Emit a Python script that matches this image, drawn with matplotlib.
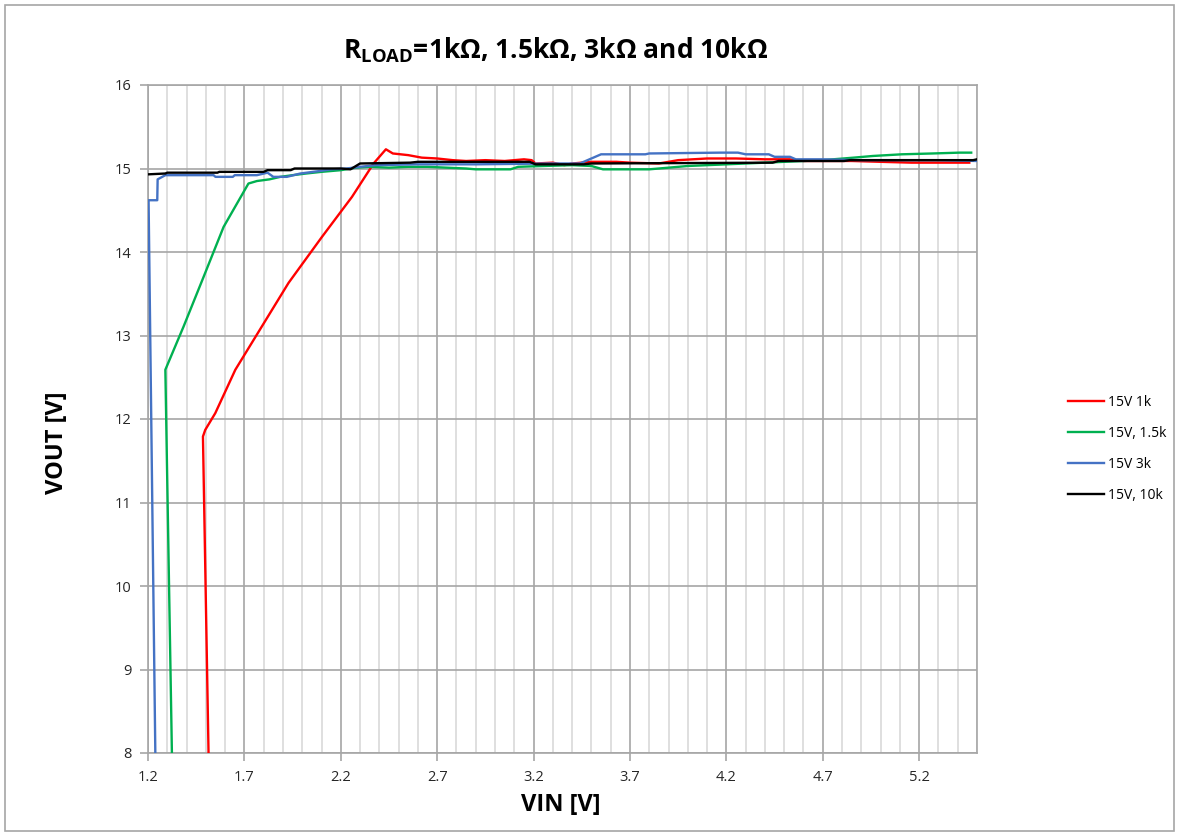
import numpy as np
import matplotlib.pyplot as plt
from matplotlib.ticker import MultipleLocator, FixedLocator

plt.rcParams['font.family'] = ['Open Sans', 'DejaVu Sans']
plt.rcParams['mathtext.fontset'] = 'custom'
plt.rcParams['mathtext.rm'] = 'Open Sans'
plt.rcParams['mathtext.bf'] = 'Open Sans:bold'

# --- data (VIN [V], VOUT [V]) ---
vin_1k = [1.514, 1.485, 1.497, 1.549, 1.653, 1.791, 1.929, 2.102, 2.258, 2.37, 2.434,
          2.47, 2.55, 2.62, 2.70, 2.78, 2.85, 2.95, 3.05, 3.15, 3.19, 3.21, 3.30, 3.36,
          3.40, 3.50, 3.63, 3.70, 3.85, 3.95, 4.10, 4.25, 4.40, 4.53, 4.60, 4.70, 4.85,
          5.00, 5.16, 5.30, 5.46]
vout_1k = [8.0, 11.79, 11.87, 12.07, 12.59, 13.11, 13.63, 14.18, 14.66, 15.06, 15.23,
           15.18, 15.16, 15.13, 15.12, 15.10, 15.09, 15.10, 15.09, 15.11, 15.10, 15.06, 15.07, 15.04,
           15.06, 15.08, 15.08, 15.07, 15.06, 15.10, 15.12, 15.12, 15.11, 15.11, 15.09, 15.09, 15.09,
           15.08, 15.07, 15.07, 15.07]

vin_1k5 = [1.324, 1.29, 1.385, 1.488, 1.592, 1.721, 1.765, 1.83, 1.886, 1.95, 2.02, 2.10,
           2.20, 2.28, 2.35, 2.45, 2.55, 2.65, 2.75, 2.85, 2.90, 3.08, 3.12, 3.25, 3.40,
           3.50, 3.56, 3.80, 3.90, 4.00, 4.10, 4.30, 4.50, 4.70, 4.86, 4.96, 5.11, 5.27,
           5.41, 5.47]
vout_1k5 = [8.0, 12.59, 13.11, 13.70, 14.30, 14.82, 14.85, 14.87, 14.90, 14.92, 14.94, 14.96,
            14.98, 15.01, 15.02, 15.01, 15.02, 15.02, 15.01, 15.00, 14.99, 14.99, 15.02, 15.03, 15.04,
            15.03, 14.99, 14.99, 15.01, 15.03, 15.04, 15.06, 15.08, 15.10, 15.13, 15.15, 15.17, 15.18,
            15.19, 15.19]

vin_3k = [1.238, 1.203, 1.203, 1.248, 1.25, 1.29, 1.54, 1.55, 1.64, 1.65, 1.765, 1.82,
          1.85, 1.92, 1.99, 2.09, 2.15, 2.23, 2.30, 2.38, 2.60, 2.90, 3.29, 3.44, 3.55,
          3.78, 3.80, 4.17, 4.26, 4.30, 4.42, 4.45, 4.53, 4.56, 4.70, 4.90, 5.10, 5.30, 5.50]
vout_3k = [8.0, 14.62, 14.62, 14.62, 14.87, 14.92, 14.92, 14.90, 14.90, 14.92, 14.92, 14.95,
           14.90, 14.90, 14.94, 14.97, 14.99, 15.00, 15.02, 15.04, 15.05, 15.05, 15.06, 15.06, 15.17,
           15.17, 15.18, 15.19, 15.19, 15.17, 15.17, 15.14, 15.14, 15.11, 15.11, 15.10, 15.10, 15.10, 15.09]

vin_10k = [1.2, 1.29, 1.30, 1.56, 1.57, 1.80, 1.82, 1.94, 1.96, 2.20, 2.25, 2.30, 2.56,
           2.60, 3.18, 3.21, 3.46, 3.50, 4.44, 4.47, 4.81, 4.84, 5.48, 5.50]
vout_10k = [14.93, 14.94, 14.95, 14.95, 14.96, 14.96, 14.98, 14.98, 15.00, 15.00, 14.99, 15.06, 15.07,
            15.08, 15.08, 15.05, 15.05, 15.06, 15.07, 15.09, 15.09, 15.10, 15.10, 15.11]

labels = ["15V 1k", "15V, 1.5k", "15V 3k", "15V, 10k"]
colors = ["#ff0000", "#00b050", "#4472c4", "#000000"]

x_major = [1.2, 1.7, 2.2, 2.7, 3.2, 3.7, 4.2, 4.7, 5.2]

# --- figure ---
fig = plt.figure(figsize=(11.79, 8.34), dpi=100)
ax = fig.add_axes([148 / 1179, 1 - 753 / 834, (977 - 148) / 1179, (753 - 85) / 834])

series = [(vin_1k, vout_1k), (vin_1k5, vout_1k5), (vin_3k, vout_3k), (vin_10k, vout_10k)]
for (xs, ys), lab, c in zip(series, labels, colors):
    ax.plot(xs, ys, color=c, lw=1.7, label=lab, zorder=3)

ax.set_xlim(1.2, 5.5)
ax.set_ylim(8, 16)
ax.xaxis.set_major_locator(FixedLocator(x_major))
ax.xaxis.set_minor_locator(FixedLocator(np.round(np.arange(1.2, 5.51, 0.1), 2)))
ax.yaxis.set_major_locator(MultipleLocator(1))
ax.set_xticklabels([f"{v:.1f}" for v in x_major])

# gridlines: light minor, darker major
ax.grid(which="minor", axis="x", color="#d9d9d9", lw=1.2, zorder=0)
ax.grid(which="major", axis="x", color="#a6a6a6", lw=1.2, zorder=1)
ax.grid(which="major", axis="y", color="#a6a6a6", lw=1.2, zorder=1)

for s in ax.spines.values():
    s.set_color("#a6a6a6")
    s.set_linewidth(1.2)

ax.tick_params(which="major", direction="out", length=6, width=1.2, color="#a6a6a6",
               labelsize=10.5, labelcolor="#262626")
ax.tick_params(which="minor", length=0)
ax.tick_params(axis="x", pad=6)
ax.tick_params(axis="y", pad=6)

# --- labels ---
fig.text(556 / 1179, 1 - 50 / 834, r"R$_\mathbf{LOAD}$=1kΩ, 1.5kΩ, 3kΩ and 10kΩ",
         ha="center", va="center", fontsize=19, fontweight="bold")
fig.text(561 / 1179, 1 - 805 / 834, "VIN [V]", ha="center", va="center",
         fontsize=17, fontweight="bold")
fig.text(57 / 1179, 1 - 443 / 834, "VOUT [V]", ha="center", va="center",
         fontsize=17, fontweight="bold", rotation=90)

ax.legend(loc="center left", bbox_to_anchor=(1055 / 1179, 1 - 449 / 834),
          bbox_transform=fig.transFigure, frameon=False, fontsize=10,
          handlelength=2.6, labelspacing=1.15, handletextpad=0.3)

# chart border
fig.patches.append(plt.Rectangle((5 / 1179, 3 / 834), 1 - 10 / 1179, 1 - 8 / 834,
                                 transform=fig.transFigure, fill=False,
                                 edgecolor="#a6a6a6", lw=1.2))

fig.savefig("out.png", dpi=100)
